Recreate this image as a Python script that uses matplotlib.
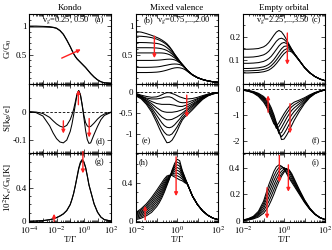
import numpy as np
import matplotlib.pyplot as plt
from matplotlib.ticker import LogLocator, FuncFormatter, NullFormatter, MultipleLocator

plt.rcParams['font.family'] = ['Liberation Serif', 'DejaVu Serif']
plt.rcParams['mathtext.fontset'] = 'stix'
plt.rcParams['font.size'] = 6.5
plt.rcParams['axes.linewidth'] = 0.8

# log10(T/Gamma) grids
logT_k = [-4, -3.5, -3, -2.5, -2.25, -2, -1.75, -1.5, -1.25, -1, -0.875, -0.75, -0.625,
          -0.5, -0.375, -0.25, -0.125, 0, 0.125, 0.25, 0.375, 0.5, 0.75, 1, 1.25, 1.5, 2]
logT_m = [-2, -1.75, -1.5, -1.25, -1, -0.875, -0.75, -0.625, -0.5, -0.375, -0.25, -0.125,
          0, 0.125, 0.25, 0.375, 0.5, 0.75, 1, 1.25, 1.5, 1.75, 2]

# Kondo: vg = 0.25, 0.50
G_kondo = [
    [0.98, 0.98, 0.98, 0.975, 0.97, 0.955, 0.915, 0.85, 0.75, 0.64, 0.58, 0.52, 0.47, 0.43,
     0.40, 0.37, 0.34, 0.31, 0.28, 0.245, 0.21, 0.175, 0.115, 0.065, 0.03, 0.012, 0.002],
    [0.995, 0.995, 0.99, 0.985, 0.975, 0.96, 0.92, 0.855, 0.755, 0.64, 0.575, 0.515, 0.465, 0.425,
     0.395, 0.365, 0.335, 0.305, 0.275, 0.24, 0.205, 0.17, 0.11, 0.062, 0.03, 0.012, 0.002],
]
S_kondo = [
    [0, -0.001, -0.006, -0.02, -0.032, -0.043, -0.051, -0.055, -0.048, -0.028, -0.012, 0.008, 0.035,
     0.063, 0.075, 0.06, 0.025, -0.012, -0.038, -0.05, -0.054, -0.052, -0.04, -0.026, -0.015, -0.008, -0.001],
    [0, -0.003, -0.015, -0.05, -0.075, -0.095, -0.107, -0.11, -0.1, -0.07, -0.045, -0.012, 0.025,
     0.06, 0.075, 0.06, 0.025, -0.02, -0.065, -0.098, -0.112, -0.11, -0.08, -0.052, -0.028, -0.013, -0.002],
]
K_kondo = [
    [0.001, 0.003, 0.008, 0.02, 0.03, 0.045, 0.065, 0.09, 0.13, 0.2, 0.26, 0.33, 0.42, 0.52,
     0.62, 0.69, 0.72, 0.70, 0.64, 0.54, 0.43, 0.36, 0.21, 0.11, 0.05, 0.02, 0.003],
    [0.001, 0.003, 0.008, 0.019, 0.029, 0.043, 0.062, 0.087, 0.127, 0.197, 0.258, 0.33, 0.425, 0.53,
     0.635, 0.705, 0.735, 0.71, 0.645, 0.545, 0.435, 0.355, 0.205, 0.108, 0.05, 0.02, 0.003],
]

# Mixed valence: vg = 0.75 ... 2.00
G_mixed = [
    [0.90, 0.89, 0.865, 0.835, 0.80, 0.78, 0.755, 0.725, 0.69, 0.64, 0.58, 0.51, 0.45, 0.39,
     0.33, 0.28, 0.225, 0.15, 0.10, 0.068, 0.045, 0.03, 0.02],
    [0.82, 0.818, 0.81, 0.795, 0.77, 0.752, 0.73, 0.703, 0.67, 0.625, 0.57, 0.505, 0.445, 0.385,
     0.33, 0.28, 0.225, 0.15, 0.10, 0.068, 0.045, 0.03, 0.02],
    [0.71, 0.71, 0.708, 0.703, 0.695, 0.686, 0.672, 0.652, 0.622, 0.585, 0.54, 0.49, 0.435, 0.38,
     0.33, 0.28, 0.225, 0.15, 0.10, 0.068, 0.045, 0.03, 0.02],
    [0.62, 0.62, 0.62, 0.619, 0.615, 0.61, 0.602, 0.59, 0.572, 0.546, 0.512, 0.472, 0.425, 0.375,
     0.33, 0.28, 0.225, 0.15, 0.10, 0.068, 0.045, 0.03, 0.02],
    [0.53, 0.53, 0.53, 0.53, 0.53, 0.53, 0.529, 0.525, 0.515, 0.50, 0.476, 0.445, 0.41, 0.37,
     0.33, 0.28, 0.225, 0.15, 0.10, 0.068, 0.045, 0.03, 0.02],
    [0.40, 0.40, 0.40, 0.40, 0.403, 0.406, 0.41, 0.415, 0.42, 0.422, 0.42, 0.41, 0.39, 0.36,
     0.325, 0.277, 0.224, 0.15, 0.10, 0.068, 0.045, 0.03, 0.02],
    [0.28, 0.28, 0.28, 0.282, 0.287, 0.292, 0.30, 0.31, 0.318, 0.328, 0.335, 0.338, 0.336, 0.328,
     0.31, 0.27, 0.222, 0.149, 0.10, 0.068, 0.045, 0.03, 0.02],
    [0.19, 0.19, 0.19, 0.192, 0.197, 0.202, 0.21, 0.22, 0.232, 0.246, 0.26, 0.27, 0.275, 0.272,
     0.262, 0.242, 0.21, 0.147, 0.10, 0.068, 0.045, 0.03, 0.02],
]
S_mixed = [
    [-0.04, -0.08, -0.11, -0.13, -0.12, -0.10, -0.07, -0.04, -0.02, -0.02, -0.04, -0.06, -0.09,
     -0.12, -0.14, -0.16, -0.17, -0.16, -0.13, -0.09, -0.055, -0.03, -0.015],
    [-0.05, -0.10, -0.15, -0.17, -0.17, -0.16, -0.15, -0.13, -0.12, -0.12, -0.14, -0.18, -0.22,
     -0.25, -0.26, -0.26, -0.25, -0.21, -0.16, -0.11, -0.06, -0.03, -0.015],
    [-0.05, -0.11, -0.17, -0.23, -0.28, -0.29, -0.30, -0.30, -0.30, -0.30, -0.31, -0.32, -0.34,
     -0.35, -0.35, -0.33, -0.31, -0.25, -0.18, -0.12, -0.07, -0.04, -0.02],
    [-0.06, -0.12, -0.20, -0.28, -0.38, -0.42, -0.46, -0.48, -0.49, -0.49, -0.49, -0.48, -0.47,
     -0.45, -0.43, -0.40, -0.36, -0.29, -0.21, -0.13, -0.08, -0.04, -0.02],
    [-0.07, -0.13, -0.22, -0.33, -0.47, -0.54, -0.60, -0.64, -0.67, -0.67, -0.66, -0.63, -0.60,
     -0.56, -0.51, -0.46, -0.41, -0.32, -0.23, -0.14, -0.08, -0.04, -0.02],
    [-0.08, -0.14, -0.24, -0.38, -0.56, -0.65, -0.74, -0.81, -0.85, -0.86, -0.84, -0.79, -0.72,
     -0.65, -0.57, -0.50, -0.45, -0.35, -0.25, -0.15, -0.09, -0.05, -0.02],
    [-0.09, -0.15, -0.27, -0.43, -0.65, -0.77, -0.88, -0.97, -1.03, -1.04, -1.01, -0.93, -0.84,
     -0.73, -0.63, -0.56, -0.50, -0.39, -0.27, -0.17, -0.09, -0.05, -0.02],
    [-0.10, -0.17, -0.30, -0.48, -0.73, -0.87, -1.00, -1.11, -1.22, -1.21, -1.16, -1.06, -0.94,
     -0.80, -0.68, -0.60, -0.55, -0.43, -0.30, -0.18, -0.10, -0.05, -0.02],
]
K_mixed = [
    [0.015, 0.03, 0.055, 0.09, 0.15, 0.19, 0.24, 0.30, 0.37, 0.44, 0.53, 0.60, 0.645, 0.63,
     0.53, 0.46, 0.39, 0.26, 0.17, 0.105, 0.06, 0.03, 0.015],
    [0.026, 0.044, 0.073, 0.112, 0.174, 0.214, 0.263, 0.32, 0.384, 0.446, 0.522, 0.58, 0.616, 0.601,
     0.52, 0.452, 0.389, 0.26, 0.17, 0.105, 0.06, 0.03, 0.015],
    [0.036, 0.059, 0.091, 0.134, 0.199, 0.239, 0.286, 0.34, 0.399, 0.451, 0.514, 0.56, 0.588, 0.573,
     0.505, 0.445, 0.389, 0.26, 0.17, 0.105, 0.06, 0.03, 0.015],
    [0.047, 0.073, 0.109, 0.156, 0.223, 0.263, 0.309, 0.36, 0.413, 0.457, 0.506, 0.54, 0.559, 0.544,
     0.49, 0.436, 0.388, 0.26, 0.17, 0.105, 0.06, 0.03, 0.015],
    [0.058, 0.087, 0.126, 0.179, 0.247, 0.287, 0.331, 0.38, 0.427, 0.463, 0.499, 0.52, 0.531, 0.516,
     0.474, 0.428, 0.387, 0.26, 0.17, 0.105, 0.06, 0.03, 0.015],
    [0.069, 0.101, 0.144, 0.201, 0.271, 0.311, 0.354, 0.40, 0.441, 0.469, 0.491, 0.50, 0.502, 0.487,
     0.457, 0.419, 0.386, 0.26, 0.17, 0.105, 0.06, 0.03, 0.015],
    [0.079, 0.116, 0.162, 0.223, 0.296, 0.336, 0.377, 0.42, 0.456, 0.474, 0.483, 0.48, 0.474, 0.459,
     0.439, 0.411, 0.386, 0.26, 0.17, 0.105, 0.06, 0.03, 0.015],
    [0.09, 0.13, 0.18, 0.245, 0.32, 0.36, 0.40, 0.44, 0.47, 0.48, 0.475, 0.46, 0.445, 0.43,
     0.42, 0.40, 0.385, 0.26, 0.17, 0.105, 0.06, 0.03, 0.015],
]

# Empty orbital: vg = 2.25 ... 3.50
G_empty = [
    [0.146, 0.146, 0.147, 0.149, 0.156, 0.163, 0.174, 0.189, 0.205, 0.219, 0.226, 0.22, 0.205,
     0.186, 0.166, 0.146, 0.128, 0.098, 0.068, 0.046, 0.03, 0.019, 0.012],
    [0.112, 0.112, 0.113, 0.116, 0.122, 0.128, 0.137, 0.15, 0.165, 0.18, 0.19, 0.193, 0.188,
     0.177, 0.162, 0.145, 0.128, 0.098, 0.068, 0.046, 0.03, 0.019, 0.012],
    [0.086, 0.086, 0.087, 0.089, 0.094, 0.099, 0.106, 0.116, 0.13, 0.145, 0.16, 0.171, 0.175,
     0.17, 0.158, 0.143, 0.127, 0.098, 0.068, 0.046, 0.03, 0.019, 0.012],
    [0.064, 0.064, 0.065, 0.067, 0.071, 0.075, 0.081, 0.09, 0.102, 0.117, 0.133, 0.148, 0.158,
     0.16, 0.153, 0.141, 0.126, 0.097, 0.068, 0.046, 0.03, 0.019, 0.012],
    [0.054, 0.054, 0.055, 0.056, 0.06, 0.063, 0.068, 0.076, 0.087, 0.1, 0.115, 0.13, 0.142,
     0.148, 0.147, 0.138, 0.125, 0.097, 0.068, 0.046, 0.03, 0.019, 0.012],
    [0.045, 0.045, 0.046, 0.047, 0.05, 0.053, 0.057, 0.064, 0.073, 0.085, 0.099, 0.114, 0.127,
     0.136, 0.139, 0.134, 0.123, 0.096, 0.068, 0.046, 0.03, 0.019, 0.012],
]
S_empty = [
    [-0.04, -0.08, -0.15, -0.28, -0.5, -0.66, -0.86, -1.1, -1.34, -1.42, -1.3, -1.12, -0.95,
     -0.8, -0.67, -0.57, -0.5, -0.42, -0.33, -0.22, -0.13, -0.07, -0.03],
    [-0.04, -0.07, -0.13, -0.25, -0.45, -0.6, -0.79, -1.02, -1.28, -1.52, -1.45, -1.28, -1.1,
     -0.94, -0.8, -0.68, -0.6, -0.48, -0.37, -0.25, -0.14, -0.07, -0.03],
    [-0.04, -0.07, -0.12, -0.22, -0.4, -0.54, -0.72, -0.95, -1.2, -1.48, -1.63, -1.48, -1.3,
     -1.12, -0.96, -0.82, -0.72, -0.56, -0.41, -0.27, -0.15, -0.08, -0.03],
    [-0.03, -0.06, -0.11, -0.2, -0.36, -0.48, -0.65, -0.86, -1.12, -1.42, -1.72, -1.68, -1.5,
     -1.32, -1.15, -0.99, -0.86, -0.65, -0.46, -0.29, -0.16, -0.08, -0.03],
    [-0.03, -0.06, -0.1, -0.18, -0.32, -0.43, -0.58, -0.79, -1.05, -1.35, -1.68, -1.84, -1.72,
     -1.55, -1.36, -1.18, -1.03, -0.76, -0.51, -0.31, -0.17, -0.08, -0.03],
    [-0.03, -0.05, -0.09, -0.16, -0.28, -0.38, -0.52, -0.72, -0.98, -1.3, -1.62, -1.95, -1.93,
     -1.78, -1.6, -1.4, -1.2, -0.86, -0.56, -0.33, -0.18, -0.09, -0.03],
]
K_empty = [
    [0.01, 0.02, 0.037, 0.075, 0.15, 0.21, 0.27, 0.32, 0.37, 0.405, 0.42, 0.41, 0.39,
     0.355, 0.32, 0.29, 0.26, 0.2, 0.14, 0.09, 0.052, 0.027, 0.013],
    [0.009, 0.018, 0.033, 0.066, 0.132, 0.185, 0.239, 0.287, 0.336, 0.374, 0.40, 0.408, 0.395,
     0.365, 0.331, 0.302, 0.271, 0.207, 0.144, 0.092, 0.053, 0.027, 0.013],
    [0.008, 0.016, 0.029, 0.058, 0.114, 0.16, 0.208, 0.254, 0.302, 0.343, 0.375, 0.395, 0.40,
     0.385, 0.35, 0.316, 0.282, 0.214, 0.148, 0.094, 0.054, 0.027, 0.013],
    [0.007, 0.014, 0.026, 0.049, 0.096, 0.135, 0.177, 0.221, 0.268, 0.312, 0.348, 0.372, 0.39,
     0.393, 0.37, 0.332, 0.293, 0.221, 0.152, 0.096, 0.054, 0.028, 0.013],
    [0.006, 0.012, 0.022, 0.041, 0.078, 0.11, 0.146, 0.188, 0.234, 0.281, 0.32, 0.352, 0.375,
     0.39, 0.38, 0.345, 0.304, 0.228, 0.156, 0.098, 0.055, 0.028, 0.013],
    [0.005, 0.01, 0.018, 0.032, 0.06, 0.085, 0.115, 0.155, 0.20, 0.25, 0.295, 0.335, 0.365,
     0.385, 0.383, 0.355, 0.315, 0.235, 0.16, 0.1, 0.056, 0.028, 0.013],
]

titles = ['Kondo', 'Mixed valence', 'Empty orbital']
vg_text = ['v$_g$=0.25, 0.50', 'v$_g$=0.75,...,2.00', 'v$_g$=2.25,...,3.50']

T_k = 10.0 ** np.array(logT_k)
T_m = 10.0 ** np.array(logT_m)

fig, axes = plt.subplots(3, 3, figsize=(3.32, 2.5), dpi=100)
fig.subplots_adjust(left=0.088, right=0.979, top=0.943, bottom=0.112, wspace=0.305, hspace=0)

data = [
    [(T_k, G_kondo), (T_m, G_mixed), (T_m, G_empty)],
    [(T_k, S_kondo), (T_m, S_mixed), (T_m, S_empty)],
    [(T_k, K_kondo), (T_m, K_mixed), (T_m, K_empty)],
]

def xfmt(v, pos):
    e = int(round(np.log10(v)))
    return r'$10^{%d}$' % e if e % 2 == 0 else ''

for i in range(3):
    for j in range(3):
        ax = axes[i, j]
        T, curves = data[i][j]
        for y in curves:
            ax.plot(T, y, color='k', lw=0.75)
        ax.set_xscale('log')
        ax.set_xlim(1e-4 if j == 0 else 1e-2, 1e2)
        ax.xaxis.set_major_locator(LogLocator(base=10, numticks=20))
        ax.xaxis.set_minor_locator(LogLocator(base=10, subs=np.arange(2, 10), numticks=20))
        if i == 2:
            ax.xaxis.set_major_formatter(FuncFormatter(xfmt))
            ax.set_xlabel('T/Γ', labelpad=0)
        else:
            ax.xaxis.set_major_formatter(NullFormatter())
        ax.xaxis.set_minor_formatter(NullFormatter())
        ax.tick_params(which='both', direction='in', top=True, right=True, width=0.5, pad=2, labelsize=6.5)
        ax.tick_params(which='major', length=3)
        ax.tick_params(which='minor', length=1.5)
        if i == 1:
            ax.axhline(0, color='k', ls='--', lw=0.6, dashes=(3, 2))
    axes[0, i].set_title(titles[i], fontsize=6.5, pad=3)

# y axes
ylims = [[(0, 1.2), (0, 1.2), (0, 0.295)],
         [(-0.145, 0.1), (-1.46, 0.2), (-2.46, 0.22)],
         [(-0.008, 0.815), (-0.01, 0.713), (-0.005, 0.51)]]
yticks = [[[0.5, 1], [0.5, 1], [0.1, 0.2]],
          [[-0.1, 0], [-1, -0.5, 0], [-2, -1, 0]],
          [[0, 0.4], [0, 0.4], [0, 0.2, 0.4]]]
ylabs = [[['0.5', '1'], ['0.5', '1'], ['0.1', '0.2']],
         [['-0.1', '0'], ['-1', '-0.5', '0'], ['-2', '-1', '0']],
         [['0', '0.4'], ['0', '0.4'], ['0', '0.2', '0.4']]]
yminor = [[0.1, 0.1, 0.05], [0.05, 0.25, 0.5], [0.1, 0.1, 0.1]]
for i in range(3):
    for j in range(3):
        ax = axes[i, j]
        ax.set_ylim(*ylims[i][j])
        ax.set_yticks(yticks[i][j], ylabs[i][j])
        ax.yaxis.set_minor_locator(MultipleLocator(yminor[i][j]))

axes[0, 0].set_ylabel('G/G$_0$')
axes[1, 0].set_ylabel('S[k$_B$/e]')
axes[2, 0].set_ylabel('10$^2$K$_e$/G$_0$[K]')
for i in range(3):
    axes[i, 0].yaxis.set_label_coords(-0.19, 0.5)

# annotations
tx = dict(fontsize=6, va='center')
axes[0, 0].text(0.45, 0.92, vg_text[0], transform=axes[0, 0].transAxes, ha='center', **tx)
axes[0, 0].text(0.86, 0.92, '(a)', transform=axes[0, 0].transAxes, ha='center', **tx)
axes[0, 1].text(0.15, 0.92, '(b)', transform=axes[0, 1].transAxes, ha='center', **tx)
axes[0, 1].text(0.58, 0.92, vg_text[1], transform=axes[0, 1].transAxes, ha='center', **tx)
axes[0, 2].text(0.49, 0.92, vg_text[2], transform=axes[0, 2].transAxes, ha='center', **tx)
axes[0, 2].text(0.89, 0.92, '(c)', transform=axes[0, 2].transAxes, ha='center', **tx)
axes[1, 0].text(0.87, 0.17, '(d)', transform=axes[1, 0].transAxes, ha='center', **tx)
axes[1, 1].text(0.12, 0.17, '(e)', transform=axes[1, 1].transAxes, ha='center', **tx)
axes[1, 2].text(0.89, 0.17, '(f)', transform=axes[1, 2].transAxes, ha='center', **tx)
axes[2, 0].text(0.86, 0.86, '(g)', transform=axes[2, 0].transAxes, ha='center', **tx)
axes[2, 1].text(0.09, 0.86, '(h)', transform=axes[2, 1].transAxes, ha='center', **tx)
axes[2, 2].text(0.89, 0.86, '(i)', transform=axes[2, 2].transAxes, ha='center', **tx)

arrows = [
    (0, 0, -1.62, 0.44, -0.22, 0.59),
    (0, 1, -1.11, 0.82, -1.11, 0.44),
    (0, 2, 0.16, 0.215, 0.16, 0.08),
    (1, 0, -1.5, -0.032, -1.5, -0.077),
    (1, 0, -0.4, 0.025, -0.4, 0.077),
    (1, 0, 0.39, -0.024, 0.39, -0.091),
    (1, 1, 0.47, -0.08, 0.47, -0.61),
    (1, 2, -0.78, -0.89, -0.78, -0.24),
    (1, 2, 0.29, -0.56, 0.29, -1.71),
    (2, 0, -0.07, 0.83, -0.07, 0.57),
    (2, 0, -2.18, 0.0, -2.18, 0.09),
    (2, 1, -1.56, 0.013, -1.56, 0.16),
    (2, 1, -0.05, 0.67, -0.05, 0.26),
    (2, 2, -0.83, 0.25, -0.83, 0.02),
    (2, 2, -0.23, 0.49, -0.23, 0.29),
    (2, 2, 0.21, 0.42, 0.21, 0.22),
]
for i, j, x0, y0, x1, y1 in arrows:
    axes[i, j].annotate('', xy=(10 ** x1, y1), xytext=(10 ** x0, y0),
                        arrowprops=dict(arrowstyle='-|>', color='#ff2020', lw=1.0,
                                        mutation_scale=5, shrinkA=0, shrinkB=0),
                        annotation_clip=False, zorder=5)

fig.savefig('out.png', dpi=100)
